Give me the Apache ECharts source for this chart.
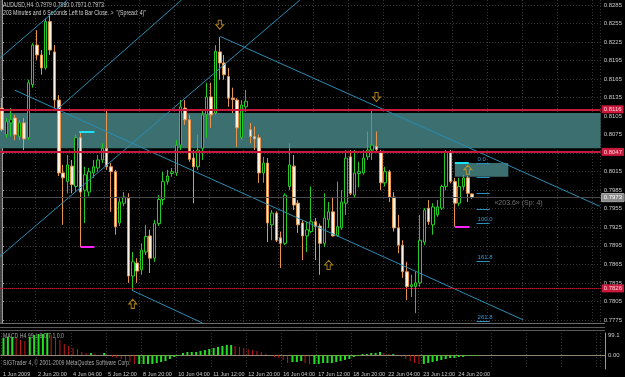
<!DOCTYPE html>
<html>
<head>
<meta charset="utf-8">
<script src="https://cdn.jsdelivr.net/npm/echarts@6/dist/echarts.min.js"></script>
<style>
html, body { margin: 0; padding: 0; background: #000; }
#main { width: 625px; height: 377px; }
</style>
</head>
<body>
<div id="main"></div>
<script>
// AUDUSD H4, 1 Jun 2009 12:00 .. 25 Jun 2009
var timeLabels = ['1 Jun 2009', '2 Jun 20:00', '4 Jun 04:00', '5 Jun 12:00', '8 Jun 20:00', '10 Jun 04:00',
  '11 Jun 12:00', '12 Jun 20:00', '16 Jun 04:00', '17 Jun 12:00', '18 Jun 20:00', '22 Jun 04:00',
  '23 Jun 12:00', '24 Jun 20:00'];

// [open, close, low, high]
var ohlc = [
  [0.8118, 0.8083, 0.8080, 0.8134], [0.8075, 0.8096, 0.8070, 0.8102], [0.8094, 0.8099, 0.8072, 0.8118],
  [0.8102, 0.8075, 0.8066, 0.8107], [0.8072, 0.8094, 0.8066, 0.8099], [0.8094, 0.8068, 0.8050, 0.8102],
  [0.8070, 0.8159, 0.8066, 0.8164], [0.8156, 0.8220, 0.8151, 0.8223], [0.8220, 0.8204, 0.8196, 0.8244],
  [0.8204, 0.8183, 0.8172, 0.8212], [0.8183, 0.8258, 0.8180, 0.8264], [0.8258, 0.8212, 0.8204, 0.8269],
  [0.8209, 0.8131, 0.8118, 0.8220], [0.8131, 0.8013, 0.8008, 0.8139], [0.8013, 0.8005, 0.7929, 0.8026],
  [0.7999, 0.8026, 0.7980, 0.8042], [0.8024, 0.7994, 0.7980, 0.8034], [0.7991, 0.8070, 0.7982, 0.8075],
  [0.8070, 0.7982, 0.7893, 0.8078], [0.7985, 0.8010, 0.7932, 0.8023], [0.7982, 0.8015, 0.7975, 0.8021],
  [0.8013, 0.8023, 0.8005, 0.8034], [0.8021, 0.8034, 0.8015, 0.8042], [0.8034, 0.8053, 0.8029, 0.8061],
  [0.8053, 0.8023, 0.8018, 0.8115], [0.8023, 0.8015, 0.7950, 0.8029], [0.8015, 0.7926, 0.7913, 0.8018],
  [0.7932, 0.7966, 0.7927, 0.7972], [0.7964, 0.7974, 0.7959, 0.7982], [0.7972, 0.7846, 0.7835, 0.7980],
  [0.7846, 0.7869, 0.7823, 0.7885], [0.7867, 0.7854, 0.7835, 0.7875], [0.7856, 0.7888, 0.7848, 0.7899],
  [0.7885, 0.7910, 0.7880, 0.7929], [0.7911, 0.7875, 0.7851, 0.7921], [0.7875, 0.7931, 0.7869, 0.7937],
  [0.7931, 0.7970, 0.7927, 0.7977], [0.7970, 0.7999, 0.7961, 0.8015], [0.7999, 0.8008, 0.7994, 0.8018],
  [0.8012, 0.8015, 0.8007, 0.8021], [0.8013, 0.8058, 0.8008, 0.8066], [0.8058, 0.8120, 0.8050, 0.8131],
  [0.8118, 0.8099, 0.8091, 0.8131], [0.8099, 0.8035, 0.8031, 0.8107], [0.8037, 0.8023, 0.7964, 0.8050],
  [0.8023, 0.8050, 0.8018, 0.8075], [0.8053, 0.8107, 0.8034, 0.8115], [0.8107, 0.8136, 0.8070, 0.8159],
  [0.8136, 0.8107, 0.8086, 0.8159], [0.8110, 0.8210, 0.8107, 0.8220], [0.8209, 0.8191, 0.8164, 0.8233],
  [0.8191, 0.8172, 0.8164, 0.8204], [0.8169, 0.8134, 0.8120, 0.8183], [0.8134, 0.8132, 0.8110, 0.8151],
  [0.8131, 0.8086, 0.8055, 0.8134], [0.8070, 0.8123, 0.8066, 0.8131], [0.8120, 0.8129, 0.8112, 0.8147],
  [0.8083, 0.8072, 0.8061, 0.8094], [0.8072, 0.8068, 0.8050, 0.8088], [0.8070, 0.8013, 0.7997, 0.8075],
  [0.8013, 0.8029, 0.7997, 0.8039], [0.8029, 0.7932, 0.7901, 0.8037], [0.7929, 0.7948, 0.7904, 0.7953],
  [0.7948, 0.7904, 0.7901, 0.7951], [0.7908, 0.7899, 0.7859, 0.7918], [0.7899, 0.7977, 0.7896, 0.7980],
  [0.7991, 0.8026, 0.7985, 0.8061], [0.8024, 0.7961, 0.7953, 0.8042], [0.7964, 0.7929, 0.7916, 0.7969],
  [0.7932, 0.7911, 0.7872, 0.7937], [0.7911, 0.7921, 0.7885, 0.7934], [0.7918, 0.7934, 0.7916, 0.7991],
  [0.7934, 0.7926, 0.7872, 0.7940], [0.7927, 0.7899, 0.7848, 0.7931], [0.7899, 0.7940, 0.7893, 0.7980],
  [0.7937, 0.7950, 0.7924, 0.7966], [0.7950, 0.7911, 0.7910, 0.7974], [0.7911, 0.7926, 0.7910, 0.7999],
  [0.7924, 0.7966, 0.7921, 0.7985], [0.7964, 0.8037, 0.7945, 0.8050], [0.8039, 0.7980, 0.7977, 0.8050],
  [0.7977, 0.8013, 0.7974, 0.8050], [0.8012, 0.8015, 0.7990, 0.8031], [0.8013, 0.8037, 0.8010, 0.8050],
  [0.8039, 0.8050, 0.8034, 0.8080], [0.8050, 0.8058, 0.8034, 0.8115], [0.8056, 0.8051, 0.8045, 0.8080],
  [0.8047, 0.7997, 0.7985, 0.8050], [0.7997, 0.8015, 0.7991, 0.8023], [0.8015, 0.7974, 0.7966, 0.8018],
  [0.7974, 0.7924, 0.7918, 0.7982], [0.7924, 0.7896, 0.7883, 0.7945], [0.7896, 0.7853, 0.7843, 0.7904],
  [0.7853, 0.7829, 0.7807, 0.7869], [0.7829, 0.7832, 0.7812, 0.7848], [0.7829, 0.7835, 0.7786, 0.7853],
  [0.7835, 0.7904, 0.7829, 0.7945], [0.7901, 0.7953, 0.7896, 0.7956], [0.7956, 0.7934, 0.7929, 0.7969],
  [0.7929, 0.7958, 0.7913, 0.7964], [0.7945, 0.7958, 0.7942, 0.7969], [0.7956, 0.7991, 0.7953, 0.7994],
  [0.7991, 0.8047, 0.7985, 0.8050], [0.8047, 0.7999, 0.7996, 0.8050], [0.7999, 0.7964, 0.7926, 0.8005],
  [0.7964, 0.7991, 0.7959, 0.8005], [0.7991, 0.8005, 0.7985, 0.8010], [0.8005, 0.7980, 0.7966, 0.8008],
  [0.7979, 0.7973, 0.7971, 0.7980]
];

// histogram of the lower window
var macdHist = [
  0.0017, 0.0018, 0.0018, 0.0017, 0.0015, 0.0014, 0.0018, 0.0020, 0.0021, 0.0021,
  0.0022, 0.0020, 0.0018, 0.0015, 0.0011, 0.0009, 0.0007, 0.0006, 0.0003, 0.0002,
  0.0002, 0.0001, 0.0000, 0.0002, 0.0000, -0.0002, -0.0003, -0.0004, -0.0006, -0.0007,
  -0.0009, -0.0009, -0.0009, -0.0009, -0.0009, -0.0008, -0.0007, -0.0006, -0.0004, -0.0002,
  -0.0001, 0.0002, 0.0003, 0.0003, 0.0003, 0.0004, 0.0005, 0.0006, 0.0007, 0.0008,
  0.0009, 0.0010, 0.0010, 0.0009, 0.0008, 0.0007, 0.0006, 0.0005, 0.0004, 0.0003,
  0.0001, 0.0000, -0.0002, -0.0003, -0.0005, -0.0008, -0.0007, -0.0007, -0.0006, -0.0008,
  -0.0009, -0.0009, -0.0009, -0.0008, -0.0008, -0.0008, -0.0007, -0.0006, -0.0005, -0.0004,
  -0.0002, -0.0001, 0.0001, 0.0001, 0.0002, 0.0002, 0.0003, 0.0002, 0.0001, 0.0001,
  0.0000, -0.0002, -0.0004, -0.0006, -0.0008, -0.0009, -0.0009, -0.0008, -0.0007, -0.0006,
  -0.0005, -0.0004, -0.0003, -0.0003, -0.0002, -0.0002, -0.0001, -0.0001, -0.0001
];

var priceTicks = [0.7775, 0.7805, 0.7835, 0.7865, 0.7895, 0.7925, 0.7955, 0.7985, 0.8015,
  0.8045, 0.8075, 0.8105, 0.8135, 0.8165, 0.8195, 0.8225, 0.8255, 0.8285];

var zoneTop = 0.8110, zoneBottom = 0.8053;
var resLine = 0.8116, supLine = 0.8047, lowLine = 0.7826, bidPrice = 0.7973;
var fibHigh = 0.8029, fibLow = 0.7931;
var fibLevels = [0, 23.6, 50, 76.4, 100, 161.8, 261.8];
var fibLabeled = ['0.0', '', '', '', '100.0', '161.8', '261.8'];

// trend lines: [[bar, price], [bar, price]]
var trendLines = [
  [[-0.5, 0.8199], [15.0, 0.8293]],
  [[12.5, 0.8115], [41.2, 0.8293]],
  [[-0.5, 0.7878], [68.4, 0.8293]],
  [[2.9, 0.8147], [119.7, 0.7775]],
  [[50.1, 0.8234], [137.3, 0.7959]],
  [[29.8, 0.7823], [46.0, 0.7770]]
];

var arrowsUp = [[30, 0.7801], [75, 0.7864], [107, 0.8018], [93, 0.7766]];
var arrowsDown = [[50, 0.8253], [86, 0.8136]];

var N = 138;
var cats = [];
for (var i = 0; i < N; i++) {
  cats.push(i % 8 === 0 && timeLabels[i / 8] ? timeLabels[i / 8] : '');
}

var histUp = [], histDown = [];
macdHist.forEach(function (v, k) {
  var up = k === 0 || v >= macdHist[k - 1];
  histUp.push(up ? v : null);
  histDown.push(up ? null : v);
});

var blue = '#2a8db4';
var gridGray = '#363636';
var font = '"Liberation Sans", sans-serif';
var smallFont = '6.5px "Liberation Sans", sans-serif';

function redLabel(txt) {
  return {
    show: true, position: 'end', distance: 1, formatter: txt,
    backgroundColor: '#c8183c', color: '#ffd0d8', fontSize: 6, fontFamily: font, padding: [1, 2]
  };
}

var fibLines = fibLevels.map(function (r, k) {
  var v = fibHigh - r / 100 * (fibHigh - fibLow);
  return [
    { coord: [109, v], label: { show: fibLabeled[k] !== '', formatter: fibLabeled[k], position: 'insideStartTop',
      distance: 1, color: '#3a9ad0', fontSize: 6, fontFamily: font } },
    { coord: [112, v] }
  ];
});

var series = [];

// rectangles and horizontal levels
series.push({
  type: 'line', xAxisIndex: 1, yAxisIndex: 0, data: [], z: 1,
  markArea: {
    silent: true,
    itemStyle: { color: '#3c6f70' },
    data: [
      [{ yAxis: zoneTop }, { yAxis: zoneBottom }],
      [{ coord: [104.0, fibHigh] }, { coord: [116.3, 0.8007] }]
    ]
  },
  markLine: {
    silent: true, symbol: ['none', 'none'], animation: false, precision: 5,
    data: [
      { yAxis: resLine, lineStyle: { color: '#c8183c', width: 2, type: 'solid' }, label: redLabel('0.8116') },
      { yAxis: supLine, lineStyle: { color: '#c8183c', width: 2, type: 'solid' }, label: redLabel('0.8047') },
      { yAxis: lowLine, lineStyle: { color: '#c8183c', width: 1, type: [1, 1] }, label: redLabel('0.7826') },
      { yAxis: bidPrice, lineStyle: { color: '#4a4a4a', width: 1, type: 'solid' },
        label: { show: true, position: 'end', distance: 1, formatter: '0.7973', backgroundColor: '#8a8a8a',
          color: '#ffffff', fontSize: 6, fontFamily: font, padding: [1, 2], borderColor: '#d0d0d0', borderWidth: 0.5 } }
    ]
  }
});

// fib + marker segments
series.push({
  type: 'line', xAxisIndex: 1, yAxisIndex: 0, data: [], z: 4,
  markLine: {
    silent: true, symbol: ['none', 'none'], animation: false, precision: 5,
    lineStyle: { color: '#2e8fc4', width: 1, type: 'solid' },
    label: { show: false },
    data: fibLines.concat([
      [{ coord: [17.7, 0.8080], lineStyle: { color: '#19e3f5', width: 2 } }, { coord: [21.2, 0.8080] }],
      [{ coord: [104.0, fibHigh], lineStyle: { color: '#19e3f5', width: 2 } }, { coord: [107.2, fibHigh] }],
      [{ coord: [18.0, 0.7893], lineStyle: { color: '#ff20ff', width: 2 } }, { coord: [21.2, 0.7893] }],
      [{ coord: [104.0, 0.7926], lineStyle: { color: '#ff20ff', width: 2 } }, { coord: [107.4, 0.7926] }]
    ])
  }
});

trendLines.forEach(function (seg) {
  series.push({
    type: 'line', xAxisIndex: 1, yAxisIndex: 0, data: seg, z: 4,
    showSymbol: false, silent: true, clip: true,
    lineStyle: { color: blue, width: 1 }
  });
});

series.push({
  type: 'candlestick', xAxisIndex: 0, yAxisIndex: 0, data: ohlc, z: 3,
  barWidth: 3,
  itemStyle: { color: '#000000', color0: '#fff2e4', borderColor: '#22cc22', borderColor0: '#e8944e', borderWidth: 1 }
});

series.push({
  type: 'scatter', xAxisIndex: 1, yAxisIndex: 0, data: arrowsUp, z: 5, clip: true,
  symbol: 'path://M5,0 L10,5 L7,5 L7,10 L3,10 L3,5 L0,5 Z', symbolSize: [8, 9],
  itemStyle: { color: 'rgba(0,0,0,0)', borderColor: '#d4a017', borderWidth: 1 }
});
series.push({
  type: 'scatter', xAxisIndex: 1, yAxisIndex: 0, data: arrowsDown, z: 5, clip: true,
  symbol: 'path://M3,0 L7,0 L7,5 L10,5 L5,10 L0,5 L3,5 Z', symbolSize: [8, 9],
  itemStyle: { color: 'rgba(0,0,0,0)', borderColor: '#d4a017', borderWidth: 1 }
});
series.push({
  type: 'scatter', xAxisIndex: 1, yAxisIndex: 0, data: [[113.1, 0.7964]], symbolSize: 0, z: 5,
  label: { show: true, position: 'right', distance: 0, formatter: '\u00ab203.6\u00bb (Sp: 4)',
    color: '#8c8c8c', fontSize: 7, fontFamily: font }
});

// lower window histogram
series.push({
  type: 'bar', xAxisIndex: 2, yAxisIndex: 1, data: histUp, barWidth: 2, barGap: '-100%',
  itemStyle: { color: '#22e022' },
  markLine: {
    silent: true, symbol: ['none', 'none'], label: { show: false },
    lineStyle: { color: '#b8860b', width: 1, type: [1, 1] },
    data: [{ yAxis: 0 }]
  }
});
series.push({
  type: 'bar', xAxisIndex: 2, yAxisIndex: 1, data: histDown, barWidth: 1, barGap: '-100%',
  itemStyle: { color: '#c41a1a' }
});

var chart = echarts.init(document.getElementById('main'), null, { renderer: 'canvas' });
chart.setOption({
  backgroundColor: '#000000',
  animation: false,
  grid: [
    { left: 0, top: 0, width: 605, height: 323 },
    { left: 0, top: 333, width: 605, height: 36 }
  ],
  xAxis: [
    { type: 'category', gridIndex: 0, data: cats, boundaryGap: true,
      axisLine: { show: false }, axisTick: { show: false }, axisLabel: { show: false },
      splitLine: { show: true, interval: 7, lineStyle: { color: gridGray, type: [1, 2] } } },
    { type: 'value', gridIndex: 0, min: -0.5, max: N - 0.5, show: false },
    { type: 'category', gridIndex: 1, data: cats, boundaryGap: true,
      axisLine: { show: true, lineStyle: { color: '#8a8a8a' } }, axisTick: { show: false },
      axisLabel: { interval: 0, align: 'left', margin: 2, color: '#c8c8c8', fontSize: 5.5, fontFamily: font,
        formatter: function (v) { return v; } },
      splitLine: { show: true, interval: 7, lineStyle: { color: gridGray, type: [1, 2] } } }
  ],
  yAxis: [
    { type: 'value', gridIndex: 0, position: 'right', min: 0.7770, max: 0.8293, scale: true,
      axisLine: { show: true, lineStyle: { color: '#9a9a9a' } },
      axisTick: { show: true, length: 2, customValues: priceTicks, lineStyle: { color: '#9a9a9a' } },
      axisLabel: { customValues: priceTicks, margin: 3, color: '#c8c8c8', fontSize: 6, fontFamily: font,
        formatter: function (v) { return v.toFixed(4); } },
      splitLine: { show: true, lineStyle: { color: gridGray, type: [1, 2] } } },
    { type: 'value', gridIndex: 1, position: 'right', min: -0.0014, max: 0.0022,
      axisLine: { show: true, lineStyle: { color: '#9a9a9a' } },
      axisTick: { show: false },
      axisLabel: { customValues: [0.0020, 0], margin: 3, color: '#c8c8c8', fontSize: 6, fontFamily: font,
        formatter: function (v) { return v === 0 ? '0.00' : '99.1'; } },
      splitLine: { show: false } }
  ],
  graphic: [
    { type: 'text', x: 3, y: 2, scaleX: 0.8, style: { text: 'AUDUSD,H4  0.7979 0.7980 0.7971 0.7973',
      fill: '#d0d0d0', font: smallFont } },
    { type: 'text', x: 3, y: 10, scaleX: 0.8, style: { text: '203 Minutes and 6 Seconds Left to Bar Close. >  "(Spread: 4)"',
      fill: '#d0d0d0', font: smallFont } },
    { type: 'line', shape: { x1: 1, y1: 0, x2: 1, y2: 323 }, style: { stroke: '#8a8a8a', lineWidth: 1 } },
    { type: 'line', shape: { x1: 0, y1: 323.5, x2: 605, y2: 323.5 }, style: { stroke: '#6a6a6a', lineWidth: 1 } },
    { type: 'line', shape: { x1: 0, y1: 327.5, x2: 605, y2: 327.5 }, style: { stroke: '#5a5a5a', lineWidth: 1 } },
    { type: 'line', shape: { x1: 0, y1: 330.5, x2: 605, y2: 330.5 }, style: { stroke: '#5a5a5a', lineWidth: 1 } },
    { type: 'text', x: 3, y: 333, scaleX: 0.8, style: { text: 'MACD H4 99.1 8.0 7.1 0.0',
      fill: '#a8a8a8', font: smallFont } },
    { type: 'text', x: 3, y: 360, scaleX: 0.8, style: { text: 'SIGTrader 4, \u00a9 2001-2009 MetaQuotes Software Corp.',
      fill: '#a8a8a8', font: smallFont } }
  ],
  series: series
});
</script>
</body>
</html>
